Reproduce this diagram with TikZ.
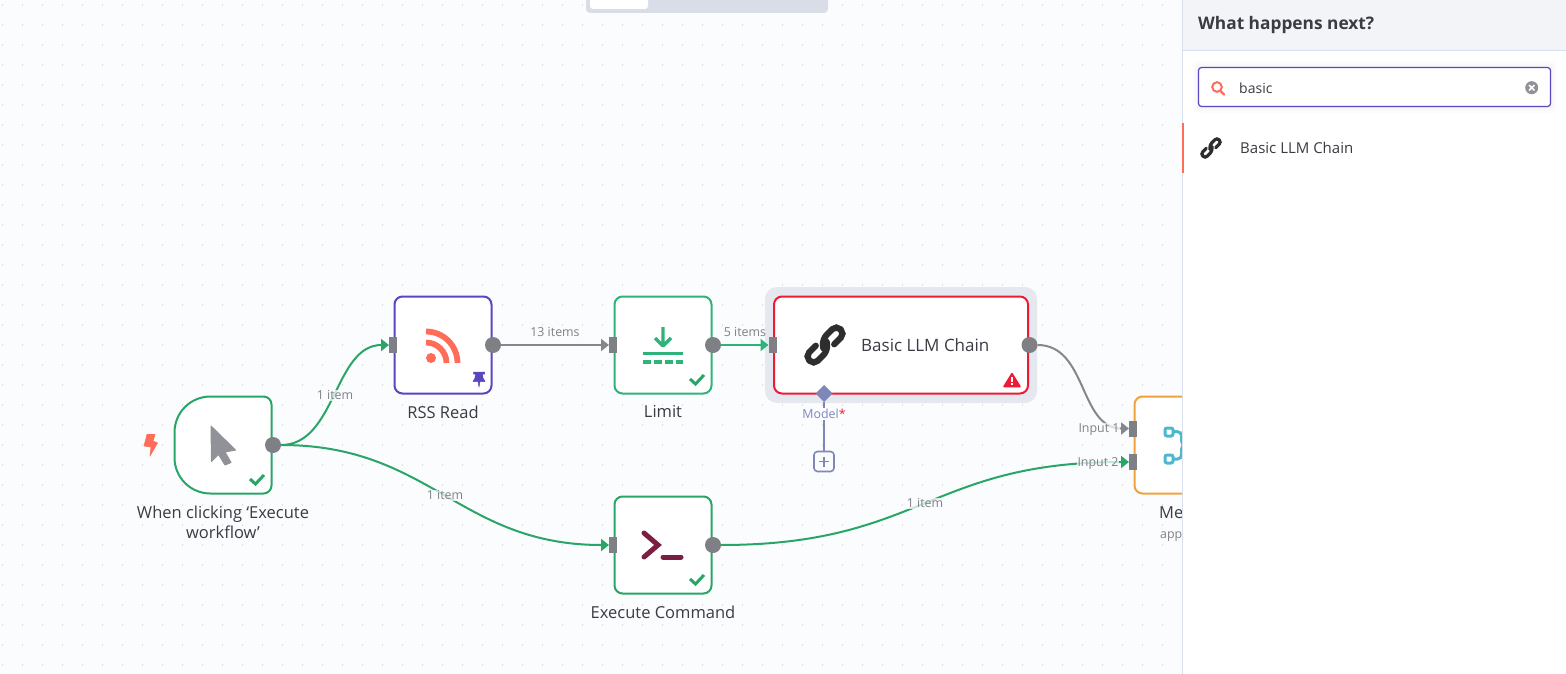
\documentclass[tikz,border=0pt]{standalone}
\usepackage{fontspec}
\usepackage{xcolor}
\setmainfont{Open Sans}
\usetikzlibrary{positioning,calc,shapes.geometric,arrows.meta}
\definecolor{canvas}{HTML}{FBFCFE}
\definecolor{griddot}{HTML}{C2C5CB}
\definecolor{okgreen}{HTML}{2AA568}
\definecolor{limitgreen}{HTML}{2FB37A}
\definecolor{pinviolet}{HTML}{5B46C0}
\definecolor{errorred}{HTML}{ED1C35}
\definecolor{halo}{HTML}{E6E8F0}
\definecolor{mergeorange}{HTML}{F0A33C}
\definecolor{mergeteal}{HTML}{4DB8CC}
\definecolor{portgrey}{HTML}{7E8086}
\definecolor{flowgrey}{HTML}{85878C}
\definecolor{labelgrey}{HTML}{7F8186}
\definecolor{cursorgrey}{HTML}{909298}
\definecolor{textdark}{HTML}{3A3B43}
\definecolor{coral}{HTML}{FF6D5A}
\definecolor{maroon}{HTML}{7A1F43}
\definecolor{aiviolet}{HTML}{7F87B8}
\definecolor{panelhead}{HTML}{F2F4F8}
\definecolor{panelline}{HTML}{D9DFEC}
\definecolor{topbar}{HTML}{D9DDE8}
\definecolor{iconblack}{HTML}{2E2E2E}
\newcommand{\okmark}[1]{\draw[okline, line width=3pt] ([shift={(-21.5,-14.5)}]#1.south east) -- ([shift={(-16,-9.5)}]#1.south east) -- ([shift={(-7.5,-18.5)}]#1.south east);}
\newcommand{\chainicon}[2]{\foreach \a in {45,225} \draw[iconblack, shift={(#1)}, rotate=\a, scale=#2, line width=#2*6.2pt, line cap=round, rounded corners=#2*5.6pt] (-3.5,1) -- (2.5,-6) -- (22,-6) -- (22,6) -- (7,6);}
\begin{document}
\begin{tikzpicture}[x=1pt, y=-1pt, >={Triangle[length=8pt,width=12pt]},
        stepbox/.style={draw, fill=white, line width=2pt, rounded corners=8pt, minimum size=97pt, inner sep=0pt, outer sep=0pt},
        okline/.style={okgreen, line width=2pt},
        plainline/.style={flowgrey, line width=2pt},
        inport/.style={fill=portgrey, minimum width=8pt, minimum height=16pt, inner sep=0pt, outer sep=0pt},
        outport/.style={circle, fill=portgrey, minimum size=16pt, inner sep=0pt, outer sep=0pt},
        steplabel/.style={textdark, font=\fontsize{16.5}{20}\selectfont, align=center, inner sep=0pt},
        flowlabel/.style={text=labelgrey, font=\fontsize{12.4}{14}\selectfont, inner sep=1pt},
        fadelabel/.style={flowlabel, fill=canvas, fill opacity=0.75, text opacity=1},
    ]
        \useasboundingbox (0,0) rectangle (1566,674);
        \fill[canvas] (0,0) rectangle (1566,674);
        \foreach \x in {2.5,22.5,...,1182}
            \foreach \y in {5,25,...,674}
                \fill[griddot] (\x,\y) circle (0.7);

        % top bar
        \fill[topbar, rounded corners=4pt] (586,-8) rectangle (828,13);
        \fill[white, rounded corners=3pt] (590,-8) rectangle (648,9);

        % steps
        \node [stepbox, okgreen, draw=none, fill=none] (trigger) at (223,445) {};
        \node [stepbox, draw=pinviolet] (rss) at (443,345) {};
        \node [stepbox, draw=limitgreen, right=123pt of rss] (limit) {};
        \node [stepbox, draw=okgreen, below=103pt of limit] (cmd) {};
        \fill[halo, rounded corners=12pt] (765,287) rectangle (1037,403);
        \node [stepbox, draw=errorred, minimum width=254pt, right=62.5pt of limit] (llm) {};
        \node [stepbox, draw=mergeorange] (merge) at (1183,445) {};

        % trigger outline: big radius on the left side only
        \draw[okline, fill=white] ([xshift=36pt]trigger.north west) -- ([xshift=-8pt]trigger.north east) .. controls ([xshift=-3.6pt]trigger.north east) and ([yshift=-3.6pt]trigger.north east) .. ([yshift=-8pt]trigger.north east)
            -- ([yshift=8pt]trigger.south east) .. controls ([yshift=3.6pt]trigger.south east) and ([xshift=-3.6pt]trigger.south east) .. ([xshift=-8pt]trigger.south east)
            -- ([xshift=36pt]trigger.south west) .. controls ([xshift=16pt]trigger.south west) and ([yshift=16pt]trigger.south west) .. ([yshift=36pt]trigger.south west)
            -- ([yshift=-36pt]trigger.north west) .. controls ([yshift=-16pt]trigger.north west) and ([xshift=16pt]trigger.north west) .. cycle;

        % ports
        \node [outport] (triggerout) at ([xshift=1.5pt]trigger.east) {};
        \node [inport] (rssin) at ([xshift=-1.5pt]rss.west) {};
        \node [outport] (rssout) at ([xshift=1.5pt]rss.east) {};
        \node [inport] (limitin) at ([xshift=-1.5pt]limit.west) {};
        \node [outport] (limitout) at ([xshift=1.5pt]limit.east) {};
        \node [inport] (llmin) at ([xshift=-1.5pt]llm.west) {};
        \node [outport] (llmout) at ([xshift=1.5pt]llm.east) {};
        \node [inport] (cmdin) at ([xshift=-1.5pt]cmd.west) {};
        \node [outport] (cmdout) at ([xshift=1.5pt]cmd.east) {};
        \node [inport] (mergein) at ([shift={(-1.5,-16.5)}]merge.west) {};
        \node [inport] (mergeintwo) at ([shift={(-1.5,17)}]merge.west) {};

        % connectors
        \draw [->, okline] (triggerout.east) .. controls ([xshift=55pt]triggerout.east) and ([xshift=-55pt]rssin.west) .. (rssin.west);
        \draw [->, okline] (triggerout.east) .. controls ([xshift=150pt]triggerout.east) and ([xshift=-150pt]cmdin.west) .. (cmdin.west);
        \draw [->, plainline] (rssout) -- (limitin);
        \draw [->, okline, limitgreen] (limitout) -- (llmin);
        \draw [->, okline] (cmdout.east) .. controls ([xshift=200pt]cmdout.east) and ([xshift=-200pt]mergeintwo.west) .. (mergeintwo.west);
        \draw [->, plainline] (llmout.east) .. controls ([xshift=50pt]llmout.east) and ([xshift=-50pt]mergein.west) .. (mergein.west);

        % flow labels
        \node [fadelabel] at (335,395.5) {1 item};
        \node [fadelabel] at (445,495.5) {1 item};
        \node [fadelabel] at (925,503.5) {1 item};
        \node [flowlabel] at (555,332.5) {13 items};
        \node [flowlabel] at (745,332.5) {5 items};
        \node [fadelabel] at (1099,429.5) {Input 1};
        \node [fadelabel] at (1098,463) {Input 2};

        % step names
        \node [steplabel, below=12pt of trigger] (triggername) {When clicking ‘Execute\\workflow’};
        \node [steplabel, below=12pt of rss] (rssname) {RSS Read};
        \node [steplabel, below=12pt of limit] (limitname) {Limit};
        \node [steplabel, below=12pt of cmd] (cmdname) {Execute Command};
        \node [steplabel, anchor=west, font=\fontsize{17}{20}\selectfont] (llmname) at ([shift={(87,0.5)}]llm.west) {Basic LLM Chain};
        \node [steplabel, anchor=west] (mergename) at (1159,513) {Me};
        \node [flowlabel, anchor=west, inner sep=0pt] (mergenote) at (1160,537) {app};

        % model port
        \node [diamond, fill=aiviolet, minimum size=17pt, inner sep=0pt, outer sep=0pt] (model) at (llm.south -| 824,0) {};
        \node [draw=aiviolet, fill=canvas, line width=1.6pt, rounded corners=3.5pt, minimum size=20pt, inner sep=0pt, outer sep=0pt] (plus) at (824,461.5) {};
        \draw [aiviolet, line width=2pt] (model) -- (plus);
        \draw [aiviolet, line width=1.6pt] (819,461.5) -- (829,461.5) (824,456.5) -- (824,466.5);
        \node [flowlabel, fill=canvas, text=aiviolet] (modelname) at (824,414) {Model\textcolor{errorred}{*}};

        % icons
        \filldraw[coral, line width=0.6pt, line join=round] (147,434.5) -- (155,434.5) -- (153,441) -- (157.5,443) -- (150,456) -- (151,447) -- (144,446) -- cycle;
        \filldraw[cursorgrey, line width=1pt, line join=round] ([shift={(-12,-19)}]trigger.center) -- ++(24.5,24) -- ++(-10.5,2) -- ++(6,10.5) -- ++(-6,2.5) -- ++(-6.5,-10.5) -- ++(-7,7) -- cycle;
        \okmark{trigger}

        \fill[coral] ([shift={(-12,13)}]rss.center) circle (5);
        \draw[coral, line width=5.8pt] ([shift={(-17,-13.5)}]rss.center) arc[start angle=90, end angle=0, radius=31.5pt];
        \draw[coral, line width=5.8pt] ([shift={(-17,-2.5)}]rss.center) arc[start angle=90, end angle=0, radius=20.5pt];
        \filldraw[pinviolet, line join=round, line width=0.5pt] (473.5,372) -- (484.5,372) -- (484.5,374) -- (482.5,374) -- (483,378) -- (485,381.5) -- (480,381.5) -- (479,387) -- (478,381.5) -- (473,381.5) -- (475,378) -- (475.5,374) -- (473.5,374) -- cycle;

        \draw[limitgreen, line width=3.4pt, line join=round] ([shift={(0,-18)}]limit.center) -- ([shift={(0,-1)}]limit.center) ([shift={(-8,-7)}]limit.center) -- ([shift={(0,1)}]limit.center) -- ([shift={(8,-7)}]limit.center);
        \draw[limitgreen, line width=3.4pt] ([shift={(-20,8.5)}]limit.center) -- ([shift={(20,8.5)}]limit.center);
        \draw[limitgreen, line width=3.4pt, dash pattern=on 8pt off 3pt] ([shift={(-20,17)}]limit.center) -- ([shift={(20,17)}]limit.center);
        \okmark{limit}

        \draw[maroon, line width=5pt, line cap=round, line join=miter] ([shift={(-19,-12)}]cmd.center) -- ([shift={(-5,0)}]cmd.center) -- ([shift={(-19,12)}]cmd.center);
        \draw[maroon, line width=5pt, line cap=round] ([shift={(0,12)}]cmd.center) -- ([shift={(18,12)}]cmd.center);
        \okmark{cmd}

        \chainicon{825,345}{1}
        \filldraw[errorred, line width=1.5pt, line join=round] (1012,373.5) -- (1020,386.5) -- (1004,386.5) -- cycle;
        \draw[white, line width=2pt] (1012,376.5) -- (1012,381.5) (1012,383) -- (1012,385);

        \draw[mergeteal, line width=3pt, rounded corners=2pt] (1165,428) rectangle (1173,436);
        \draw[mergeteal, line width=3pt, rounded corners=2pt] (1165,455) rectangle (1173,463);
        \draw[mergeteal, line width=3pt, rounded corners=4pt] (1173,431.7) -- (1181.5,431.7) -- (1181.5,445) -- (1190,445) -- (1181.5,445) -- (1181.5,459) -- (1173,459);

        % side panel
        \fill[white] (1182,0) rectangle (1566,674);
        \fill[panelhead] (1182,0) rectangle (1566,50);
        \draw[panelline, line width=1pt] (1182.5,0) -- (1182.5,674) (1182.5,50.5) -- (1566,50.5);
        \node [anchor=west, textdark, inner sep=0pt, font=\fontsize{17.3}{20}\selectfont\bfseries] (paneltitle) at (1198,25) {What happens next?};
        \foreach \s in {2,4,6}
            \fill[black, opacity=0.012, rounded corners=4pt] (1198.5-\s,67.5-\s) rectangle (1550.5+\s,107+\s);
        \node [draw=pinviolet, fill=white, line width=1.2pt, rounded corners=3pt, minimum width=352pt, minimum height=39pt, inner sep=0pt, outer sep=0pt] (search) at (1374.5,87) {};
        \node [anchor=west, textdark, inner sep=0pt, font=\fontsize{14}{20}\selectfont] (searchtext) at (1239,88) {basic};
        \draw[coral, line width=2pt] (1217,87) circle (4.8);
        \draw[coral, line width=2.2pt, line cap=round] (1220.5,91) -- (1224,94.5);
        \fill[cursorgrey] (1531.7,87.7) circle (6.5);
        \draw[white, line width=1.6pt] (1529,85) -- (1534.4,90.4) (1534.4,85) -- (1529,90.4);
        \fill[coral] (1182,123) rectangle (1184,173);
        \chainicon{1211,148}{0.52}
        \node [anchor=west, textdark, inner sep=0pt, font=\fontsize{15}{16}\selectfont] (itemtext) at (1240,148) {Basic LLM Chain};

    \end{tikzpicture}
\end{document}
